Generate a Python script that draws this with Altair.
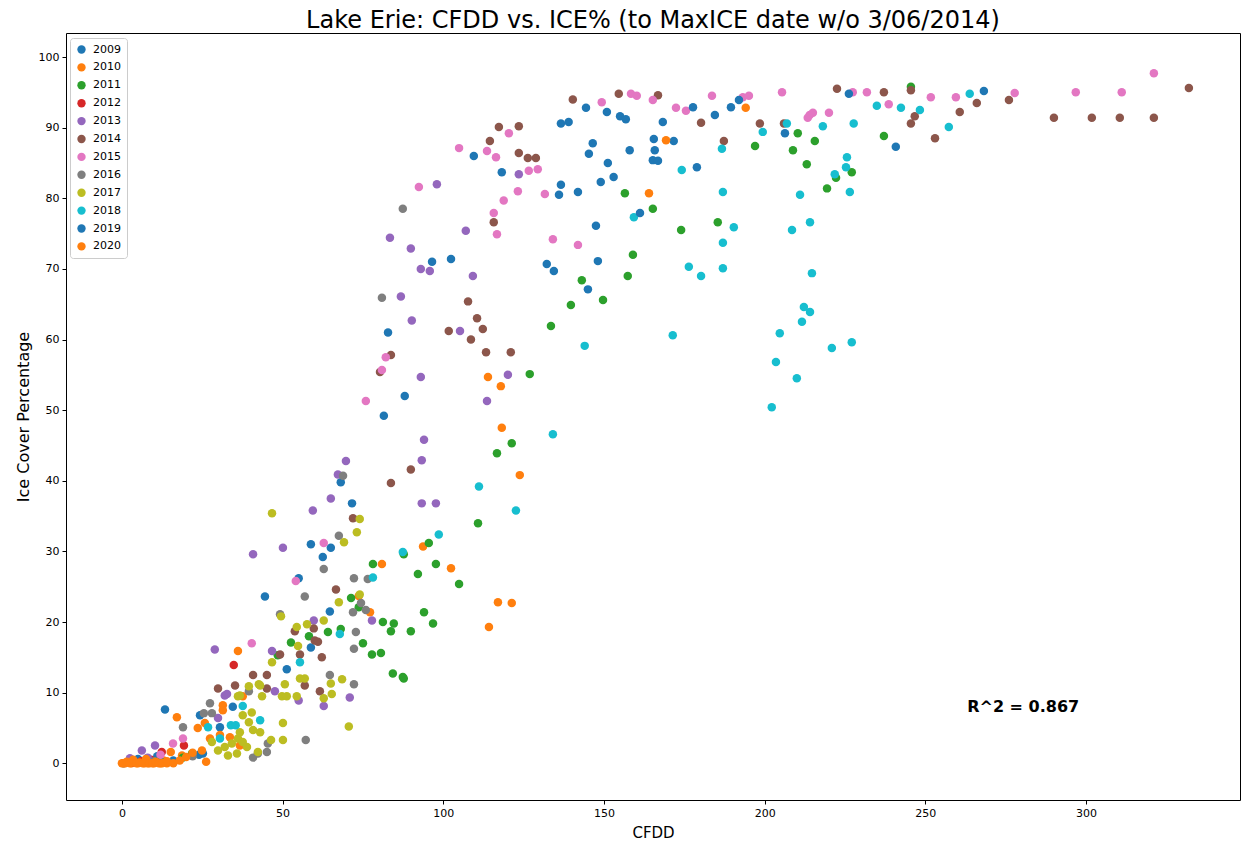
import altair as alt
import pandas as pd

# CFDD (x) and ice cover % (y) per winter season
x2009 = [0.5, 2.5, 5, 8, 11, 13.4, 16, 24, 24.3, 25.2, 30.5, 34.5, 44.5, 51.3, 55, 58.8, 58.8, 62.5, 64.7, 65, 68.1, 71.6, 81.5, 82.8, 88, 96.5, 102.4]
y2009 = [0.0, 0.3, 0.6, 0.2, 1.0, 7.6, 0.4, 1.2, 6.8, 1.4, 5.1, 8.0, 23.6, 13.3, 26.2, 16.4, 31.0, 29.2, 21.5, 30.5, 39.8, 36.8, 49.2, 61.0, 52.0, 71.0, 71.4]

x2010 = [0, 1, 2, 3, 4, 5, 6, 7, 8, 9, 10, 11, 12, 13, 14, 15.2, 17.1, 18.7, 23.6, 24.9, 25.8, 27.4, 30.5, 31.4, 31.4, 33.6, 36.1, 36.7, 37.6, 73.7, 77.2, 80.9, 93.7, 102.4, 114.2, 113.9, 117, 117.9, 118.2, 121.3, 123.8]
y2010 = [0, 0, 0.3, 0, 0.1, 0, 0.2, 0, 0, 0.3, 0, 0.1, 0, 0.4, 0, 1.6, 6.5, 1.1, 5.0, 1.8, 5.7, 3.5, 4.0, 8.2, 7.5, 3.7, 15.9, 2.5, 9.5, 23.7, 21.4, 28.2, 30.7, 27.6, 19.3, 54.7, 22.8, 53.4, 47.5, 22.7, 40.8]

x2011 = [12, 19, 21.8, 48.5, 52.6, 58.2, 64.1, 68.1, 71.3, 73.7, 75, 77.8, 78.1, 80.6, 81.2, 83.7, 84.3, 84.6, 87.4, 87.7, 87.7, 89.9, 92.1, 94, 95.5, 96.8, 97.7, 104.9, 110.8, 116.7, 121.3, 126.9, 133.5, 139.7, 143.1, 149.7, 157.4, 159, 156.5, 165.2, 174, 185.4, 197, 208.8, 210.3, 213.1, 215.6, 219.4, 222.2, 227.1, 237.1, 245.5]
y2011 = [0.3, 0.8, 1.4, 15.3, 17.1, 18.0, 18.6, 19.0, 23.4, 22.1, 17.0, 15.4, 28.2, 15.6, 20.0, 18.7, 12.7, 19.8, 12.2, 12.0, 29.6, 18.7, 26.8, 21.4, 31.2, 19.8, 28.2, 25.4, 34.0, 43.9, 45.3, 55.1, 61.9, 64.9, 68.4, 65.6, 69.0, 72.0, 80.7, 78.5, 75.5, 76.6, 87.4, 86.8, 89.2, 84.8, 88.1, 81.4, 82.9, 83.7, 88.8, 95.8]

x2012 = [3, 6, 9, 12.4, 19.3, 34.8]
y2012 = [0.1, 0.3, 0.5, 1.6, 2.5, 13.9]

x2013 = [2.5, 6.2, 8, 10.3, 29.9, 32, 28.9, 32.7, 40.8, 47.6, 46.7, 50.1, 55, 59.4, 59.7, 62.8, 65, 67.2, 69.7, 70.9, 77.8, 93.3, 97.7, 93.3, 94, 93, 113.6, 120.1, 90.2, 105.2, 86.8, 93, 95.8, 109.2, 89.9, 83.4, 107, 98, 123.5]
y2013 = [0.7, 1.8, 0.8, 2.5, 6.4, 9.6, 16.1, 9.8, 29.6, 10.2, 15.9, 30.5, 8.9, 35.8, 20.2, 8.1, 37.5, 40.9, 42.8, 9.3, 20.2, 36.8, 36.8, 42.9, 45.8, 54.7, 51.3, 55.0, 62.7, 61.2, 66.1, 70.0, 69.7, 69.0, 72.9, 74.4, 75.4, 82.0, 83.4]

x2014 = [29.9, 35.2, 40.8, 45.1, 45.1, 49.2, 53.8, 55.4, 56.9, 59.7, 60, 61, 61.6, 62.2, 66.6, 71.9, 83.7, 89.9, 80.3, 83.7, 101.7, 107.7, 108.6, 110.5, 112.3, 113.3, 121, 115.7, 114.5, 117.3, 123.5, 123.5, 126.3, 128.8, 140.3, 154.6, 166.8, 180.2, 187.3, 198.5, 206, 222.5, 237.1, 245.5, 246.7, 245.5, 253, 260.7, 266, 276, 290, 301.8, 310.5, 321.1, 332]
y2014 = [10.6, 11.0, 12.5, 12.5, 10.6, 15.4, 18.7, 15.4, 11.0, 19.1, 17.4, 17.2, 10.2, 15.0, 24.6, 34.7, 39.7, 41.6, 55.4, 57.8, 61.2, 65.4, 60.0, 63.0, 61.5, 58.2, 58.2, 76.6, 88.1, 90.1, 90.2, 86.4, 85.7, 85.7, 94.0, 94.8, 94.6, 90.7, 88.1, 90.6, 90.6, 95.5, 95.0, 95.3, 91.6, 90.6, 88.5, 92.2, 93.5, 93.9, 91.4, 91.4, 91.4, 91.4, 95.6]

x2015 = [12, 15.9, 19, 40.4, 54.1, 62.8, 75.9, 80.9, 82.1, 92.4, 104.9, 113.6, 116.4, 115.7, 116.7, 118.8, 120.4, 123.2, 126.6, 129.4, 131.6, 134.1, 141.9, 149.3, 158.4, 160.2, 165.2, 172.4, 175.5, 183.6, 193.2, 195.1, 205.4, 213.4, 214, 215, 220, 227.4, 231.8, 238.6, 251.7, 259.5, 277.8, 296.8, 311.1, 321.1]
y2015 = [1.2, 2.8, 3.5, 17.0, 25.8, 31.2, 51.3, 55.7, 57.5, 81.6, 87.1, 86.7, 85.8, 77.9, 74.9, 79.7, 89.2, 81.0, 83.9, 84.1, 80.6, 74.2, 73.4, 93.6, 94.8, 94.5, 93.9, 92.8, 92.4, 94.5, 94.3, 94.5, 95.0, 91.4, 91.8, 92.1, 92.1, 95.0, 95.0, 93.3, 94.3, 94.3, 94.9, 95.0, 95.0, 97.7]

x2016 = [10, 19, 22, 25.5, 27.4, 28, 39.5, 40.8, 42.3, 45.1, 45.4, 49.2, 56.9, 57.2, 62.8, 64.7, 67.5, 68.8, 71.9, 72.2, 72.2, 72.2, 72.8, 74.4, 75.9, 76.5, 80.9, 87.4]
y2016 = [0.3, 5.1, 1.0, 7.1, 8.5, 7.1, 10.2, 0.8, 1.4, 1.6, 2.8, 21.1, 23.6, 3.3, 27.5, 12.5, 32.2, 40.7, 21.4, 26.2, 16.2, 11.2, 18.6, 22.7, 21.7, 26.1, 65.9, 78.5]

x2017 = [28, 29.9, 32, 33, 34.2, 35.8, 36.1, 36.1, 36.7, 36.7, 37.6, 37.6, 38.9, 39.5, 39.5, 40.4, 40.8, 42.3, 42.6, 43, 43, 43.6, 46.4, 46.7, 46.7, 49.5, 49.8, 50.1, 50.1, 50.7, 51.3, 54.4, 54.4, 54.8, 55.4, 56.9, 57.6, 62.8, 62.8, 65, 65.3, 67.5, 68.5, 69.1, 70.6, 73.1, 74, 74]
y2017 = [3.0, 1.8, 2.3, 1.1, 2.8, 1.4, 3.5, 9.5, 4.4, 9.6, 6.8, 3.0, 2.3, 5.8, 10.9, 7.2, 4.7, 1.6, 11.2, 4.4, 11.0, 9.5, 3.3, 14.3, 35.4, 20.8, 9.5, 3.3, 5.7, 11.2, 9.5, 19.3, 9.5, 16.6, 12.0, 12.0, 19.7, 20.2, 9.2, 11.3, 9.8, 22.8, 11.9, 31.3, 5.2, 32.7, 34.6, 23.9]

x2018 = [26.8, 30.5, 33.9, 35.4, 37.6, 43, 55.4, 67.8, 78.1, 87.4, 98.6, 111.1, 122.6, 134.1, 144, 159.3, 171.4, 174.2, 176.4, 180.2, 186.7, 187, 187, 187, 190.4, 199.4, 202.2, 203.5, 204.7, 206.9, 208.5, 210, 211, 211.6, 212.2, 214.1, 214.1, 214.7, 218.1, 220.9, 221.8, 225.3, 225.6, 226.5, 227.1, 227.7, 234.9, 242.4, 248.3, 257.3, 263.8]
y2018 = [5.1, 3.5, 5.4, 5.4, 8.1, 6.1, 14.3, 18.3, 26.3, 29.9, 32.4, 39.2, 35.8, 46.6, 59.1, 77.3, 60.6, 84.0, 70.3, 69.0, 87.0, 80.9, 73.7, 70.1, 75.9, 89.4, 50.4, 56.8, 60.9, 90.6, 75.5, 54.5, 80.5, 62.5, 64.6, 63.9, 76.6, 69.4, 90.2, 58.8, 83.4, 84.4, 85.8, 80.9, 59.6, 90.6, 93.1, 92.8, 92.5, 90.1, 94.8]

x2019 = [109.5, 118.2, 132.2, 134.4, 136.6, 139, 136.6, 136, 141.9, 144.4, 145.3, 146.5, 145, 147.5, 148.1, 149, 150.9, 151.2, 153, 155, 156.8, 158, 161.2, 165.5, 165.8, 165.2, 166.8, 168.3, 171.7, 177.7, 178.9, 184.5, 189.5, 192, 206.3, 226.2, 240.8, 268.2]
y2019 = [86.0, 83.7, 70.7, 69.7, 90.6, 90.8, 81.9, 80.5, 80.9, 92.8, 86.3, 87.8, 67.1, 76.1, 71.1, 82.3, 92.2, 85.0, 83.0, 91.6, 91.2, 86.8, 77.9, 88.4, 86.8, 85.4, 85.3, 90.8, 88.1, 92.9, 84.4, 91.8, 92.9, 93.9, 89.2, 94.8, 87.3, 95.2]

x2020 = [0.5, 1.5, 2.5, 3.5, 4.5, 5.5, 6.5, 7.5, 8.5, 9.5, 10.5, 11.5, 12.5, 14, 16, 18, 20, 22, 26.2, 164, 169.3, 194.1]
y2020 = [0, 0.2, 0, 0.5, 0, 0.1, 0, 0.6, 0, 0, 0.2, 0, 0, 0.3, 0, 0.4, 0.9, 1.5, 0.2, 80.7, 88.2, 92.8]

years = ["2009", "2010", "2011", "2012", "2013", "2014", "2015", "2016", "2017", "2018", "2019", "2020"]
palette = ["#1f77b4", "#ff7f0e", "#2ca02c", "#d62728", "#9467bd", "#8c564b",
           "#e377c2", "#7f7f7f", "#bcbd22", "#17becf", "#1f77b4", "#ff7f0e"]

series = {
    "2009": (x2009, y2009), "2010": (x2010, y2010), "2011": (x2011, y2011),
    "2012": (x2012, y2012), "2013": (x2013, y2013), "2014": (x2014, y2014),
    "2015": (x2015, y2015), "2016": (x2016, y2016), "2017": (x2017, y2017),
    "2018": (x2018, y2018), "2019": (x2019, y2019), "2020": (x2020, y2020),
}

rows = []
order = 0
for yr in years:
    xs, ys = series[yr]
    for xv, yv in zip(xs, ys):
        rows.append({"CFDD": xv, "ICE": yv, "Year": yr, "ord": order})
        order += 1
df = pd.DataFrame(rows)

r2_label = "R^2 = 0.867"
r2_pos = pd.DataFrame({"CFDD": [263.0], "ICE": [7.9], "label": [r2_label]})

font = "DejaVu Sans"
x_scale = alt.Scale(domain=[-17.4, 347.9], nice=False, zero=False)
y_scale = alt.Scale(domain=[-5.2, 103.4], nice=False, zero=False)

points = alt.Chart(df).mark_circle(size=72, opacity=1).encode(
    x=alt.X("CFDD:Q", scale=x_scale,
            axis=alt.Axis(title="CFDD", values=[0, 50, 100, 150, 200, 250, 300])),
    y=alt.Y("ICE:Q", scale=y_scale,
            axis=alt.Axis(title="Ice Cover Percentage",
                          values=[0, 10, 20, 30, 40, 50, 60, 70, 80, 90, 100])),
    color=alt.Color("Year:N", scale=alt.Scale(domain=years, range=palette),
                    legend=alt.Legend(title=None, orient="none", legendX=4, legendY=5,
                                      symbolType="circle", symbolSize=70,
                                      labelFontSize=11, labelFont=font,
                                      rowPadding=5.9, padding=6,
                                      strokeColor="#cccccc", fillColor="white",
                                      cornerRadius=3, labelOffset=6)),
    order=alt.Order("ord:Q"),
)

r2_text = alt.Chart(r2_pos).mark_text(
    align="left", baseline="middle", fontSize=16, fontWeight="bold", font=font, color="black"
).encode(x="CFDD:Q", y="ICE:Q", text="label:N")

chart = alt.layer(points, r2_text).properties(
    width=1174, height=767,
    title=alt.TitleParams("Lake Erie: CFDD vs. ICE% (to MaxICE date w/o 3/06/2014)",
                          fontSize=24, font=font, fontWeight="normal", color="black",
                          anchor="middle", offset=0),
    autosize=alt.AutoSizeParams(type="none"),
    padding={"left": 66, "top": 33, "right": 2, "bottom": 44},
).configure_view(
    stroke="black", strokeWidth=1
).configure_axis(
    domain=False, grid=False, tickColor="black", tickSize=4,
    labelColor="black", labelFont=font, labelFontSize=11, labelPadding=3,
    titleFont=font, titleFontSize=15, titleFontWeight="normal", titleColor="black",
).configure_axisY(titlePadding=7, titleFontSize=16).configure_axisX(titlePadding=7)

chart.save("out.html", embed_options={"renderer": "svg", "actions": False})
